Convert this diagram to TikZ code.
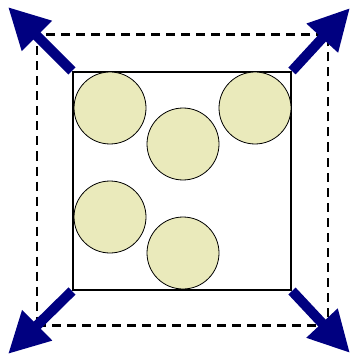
\documentclass[tikz,border=0pt]{standalone}
\usetikzlibrary{arrows.meta}
\definecolor{ballfill}{RGB}{234,234,187}
\definecolor{arrowblue}{RGB}{0,0,128}
\begin{document}
\begin{tikzpicture}[x=1pt,y=-1pt,
  ball/.style={circle,draw=black,line width=0.8pt,fill=ballfill,minimum size=72pt,inner sep=0pt},
  box/.style={draw=black,line width=2pt,minimum size=218pt,inner sep=0pt},
  dashbox/.style={draw=black,line width=2.4pt,dash pattern=on 9pt off 6pt,minimum size=291pt,inner sep=0pt},
  growarrow/.style={draw=arrowblue,line width=10pt,-{Triangle[length=41pt,width=40pt]}}]
\useasboundingbox (0,0) rectangle (353,358);
\node[dashbox] (db) at (182.5,180) {};
\node[box] (sq) at (182,181) {};
\node[ball] (b1) at (110,108) {};
\node[ball] (b2) at (183,144) {};
\node[ball] (b3) at (255,108) {};
\node[ball] (b4) at (110,217) {};
\node[ball] (b5) at (183,253) {};
\coordinate (tnw) at (8,7);
\coordinate (tne) at (350,8);
\coordinate (tsw) at (8,354);
\coordinate (tse) at (350,353);
\draw[growarrow] (sq.north west) -- (tnw);
\draw[growarrow] (sq.north east) -- (tne);
\draw[growarrow] (sq.south west) -- (tsw);
\draw[growarrow] (sq.south east) -- (tse);
\end{tikzpicture}
\end{document}
